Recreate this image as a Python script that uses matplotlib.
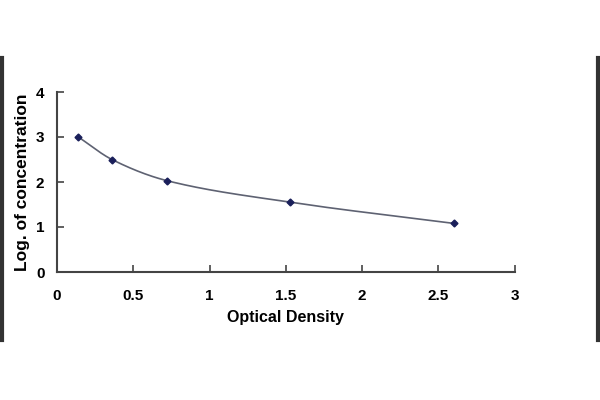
import numpy as np
import matplotlib
matplotlib.use("Agg")
import matplotlib.pyplot as plt
from matplotlib.lines import Line2D

od = [0.14, 0.36, 0.72, 1.53, 2.60]
log_conc = [3.00, 2.50, 2.03, 1.55, 1.08]
xticks = [0, 0.5, 1, 1.5, 2, 2.5, 3]
xticklabels = ["0", "0.5", "1", "1.5", "2", "2.5", "3"]
yticks = [0, 1, 2, 3, 4]
yticklabels = ["0", "1", "2", "3", "4"]


def pchip(x, y, xs):
    x = np.asarray(x, float); y = np.asarray(y, float)
    h = np.diff(x); d = np.diff(y) / h
    n = len(x); m = np.zeros(n)
    for k in range(1, n - 1):
        if d[k - 1] * d[k] > 0:
            w1 = 2 * h[k] + h[k - 1]; w2 = h[k] + 2 * h[k - 1]
            m[k] = (w1 + w2) / (w1 / d[k - 1] + w2 / d[k])
    m[0] = d[0]; m[-1] = d[-1]
    idx = np.clip(np.searchsorted(x, xs) - 1, 0, n - 2)
    t = (xs - x[idx]) / h[idx]
    h00 = 2 * t**3 - 3 * t**2 + 1; h10 = t**3 - 2 * t**2 + t
    h01 = -2 * t**3 + 3 * t**2; h11 = t**3 - t**2
    return h00 * y[idx] + h10 * h[idx] * m[idx] + h01 * y[idx + 1] + h11 * h[idx] * m[idx + 1]


plt.rcParams['font.family'] = ['Liberation Sans', 'DejaVu Sans']
fig = plt.figure(figsize=(6, 4), dpi=100)
ax = fig.add_axes([0.095, 0.32, 0.763, 0.45])

xs = np.linspace(od[0], od[-1], 300)
ax.plot(xs, pchip(od, log_conc, xs), color="#5e6272", lw=1.2)
ax.plot(od, log_conc, ls="none", marker="D", ms=3.5, color="#1a1f5a")

ax.set_xlim(0, 3)
ax.set_ylim(0, 4)
ax.set_xticks(xticks)
ax.set_xticklabels(xticklabels)
ax.set_yticks(yticks)
ax.set_yticklabels(yticklabels)
for s in ["top", "right"]:
    ax.spines[s].set_visible(False)
for s in ["left", "bottom"]:
    ax.spines[s].set_color("#444444")
    ax.spines[s].set_linewidth(1.5)
ax.tick_params(direction="in", length=5, width=1.2, color="#444444",
               labelsize=11, pad=12)
ax.tick_params(axis="y", pad=9)
for lab in ax.get_xticklabels() + ax.get_yticklabels():
    lab.set_fontweight("bold")
ax.set_xlabel("Optical Density", fontsize=11.5, fontweight="bold", labelpad=5)
ax.set_ylabel("Log. of concentration", fontsize=12.5, fontweight="bold", labelpad=4)

fig.add_artist(Line2D([0.004, 0.004], [1 - 58 / 400, 1 - 340 / 400],
                      transform=fig.transFigure, color="#333333", lw=3))
fig.add_artist(Line2D([0.996, 0.996], [1 - 58 / 400, 1 - 340 / 400],
                      transform=fig.transFigure, color="#333333", lw=3))

fig.savefig("out.png", dpi=100)
